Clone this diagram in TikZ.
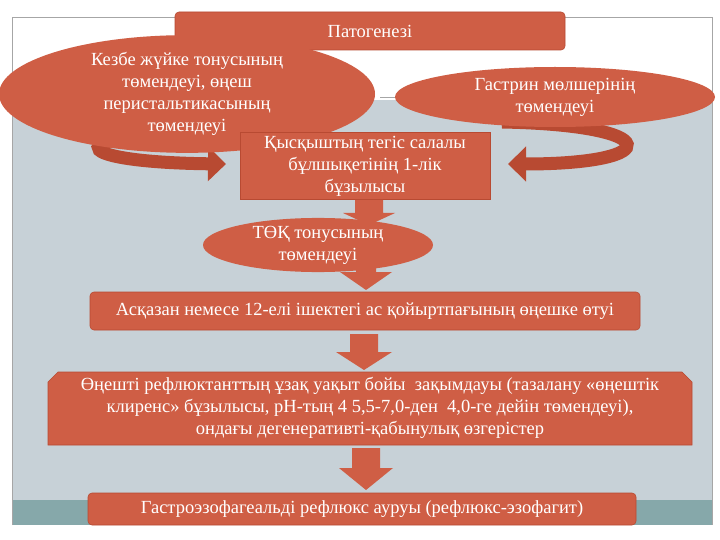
\documentclass[tikz,border=0pt]{standalone}
\usepackage{fontspec}
\setmainfont{Liberation Serif}
\usetikzlibrary{shapes.geometric,arrows.meta}
\definecolor{org}{HTML}{CF5E45}
\definecolor{orgd}{HTML}{B84A32}
\definecolor{bg}{HTML}{C7D1D7}
\definecolor{teal}{HTML}{86A8AA}
\tikzset{
 box/.style={fill=org,draw=orgd,line width=0.6pt,text=white,align=center,font=\fontsize{18.5}{22}\selectfont,inner sep=2pt},
 oval/.style={ellipse,fill=org,text=white,align=center,font=\fontsize{18.5}{22}\selectfont,inner sep=0pt},
 down/.style={fill=org},
 ribbon/.style={draw=orgd,line width=13pt,-{Triangle[length=18pt,width=34pt]}},
}
\begin{document}
\begin{tikzpicture}[x=1pt,y=-1pt]
\useasboundingbox (0,0) rectangle (720,540);
\fill[white] (0,0) rectangle (720,540);
\fill[bg] (12,100) rectangle (712,525);
\fill[teal] (12,500) rectangle (712,525);
\draw[gray!70,line width=0.6pt] (12,525) -- (12,17) -- (712,17) -- (712,525);
\draw[gray!70] (380,97) -- (712,97);
% title
\node[box,rounded corners=4pt,minimum width=390pt,minimum height=38pt] (t) at (370,31) {Патогенезі};
% ribbons
\draw[ribbon] (232,132) .. controls (55,132) and (60,162) .. (226,164);
\draw[ribbon] (502,122) .. controls (665,125) and (665,164) .. (508,164);
% ellipses
\node[oval,minimum width=376pt,minimum height=80pt] (l) at (187,94) {Кезбе жүйке тонусының\\төмендеуі, өңеш\\перистальтикасының\\төмендеуі};
\node[oval,minimum width=320pt,minimum height=60pt] (r) at (555,97) {Гастрин мөлшерінің\\төмендеуі};
\node[box,minimum width=250pt,minimum height=67pt] (c) at (365,166) {Қысқыштың тегіс салалы\\бұлшықетінің 1-лік\\бұзылысы};
% arrows
\fill[down] (355,200) -- (383,200) -- (383,213) -- (395,213) -- (369,225) -- (343,213) -- (355,213) -- cycle;
\node[oval,minimum width=230pt,minimum height=44pt] (e) at (318,245) {ТӨҚ тонусының\\төмендеуі};
\fill[down] (356,265) -- (376,265) -- (376,272) -- (392,272) -- (366,290) -- (340,272) -- (356,272) -- cycle;
\node[box,rounded corners=4pt,minimum width=550pt,minimum height=38pt] (a) at (365,311) {Асқазан немесе 12-елі ішектегі ас қойыртпағының өңешке өтуі};
\fill[down] (350,334) -- (378,334) -- (378,352) -- (392,352) -- (364,370) -- (336,352) -- (350,352) -- cycle;
\path[fill=org,draw=orgd,line width=0.6pt] (48,445) -- (48,382) -- (58,372) -- (682,372) -- (692,382) -- (692,445) -- cycle;
\node[text=white,align=center,font=\fontsize{18.5}{22}\selectfont] (b) at (370,408) {Өңешті рефлюктанттың ұзақ уақыт бойы\ \ зақымдауы (тазалану «өңештік\\клиренс» бұзылысы, рН-тың 4 5,5-7,0-ден\ \ 4,0-ге дейін төмендеуі),\\ондағы дегенеративті-қабынулық өзгерістер};
\fill[down] (352,448) -- (380,448) -- (380,468) -- (393,468) -- (366,490) -- (339,468) -- (352,468) -- cycle;
\node[box,rounded corners=4pt,minimum width=548pt,minimum height=32pt] (g) at (362,509) {Гастроэзофагеальді рефлюкс ауруы (рефлюкс-эзофагит)};
\end{tikzpicture}
\end{document}
